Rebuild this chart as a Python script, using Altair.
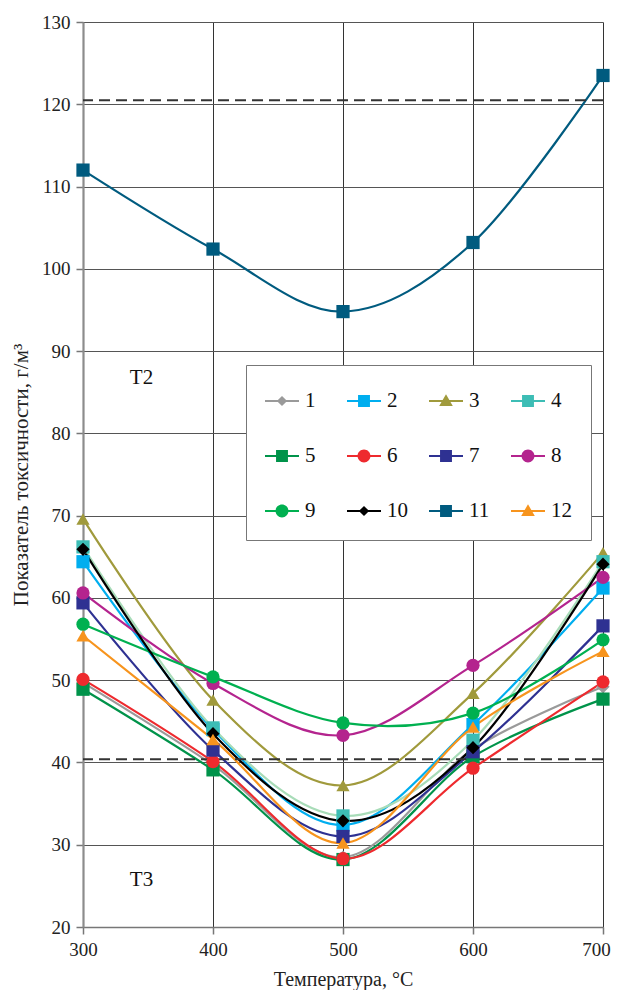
import altair as alt
import pandas as pd

temps = [300, 400, 500, 600, 700]
series_names = [str(i) for i in range(1, 13)]

s1 = [49.7, 39.7, 28.5, 41.6, 49.2]
s2 = [64.4, 44.0, 32.4, 44.6, 61.2]
s3 = [69.6, 47.6, 37.2, 48.4, 65.5]
s4 = [66.2, 44.2, 33.5, 42.7, 64.4]
s5 = [48.9, 39.1, 28.2, 40.7, 47.7]
s6 = [50.1, 40.1, 28.3, 39.3, 49.8]
s7 = [59.4, 41.5, 31.0, 41.3, 56.6]
s8 = [60.6, 49.6, 43.3, 51.8, 62.5]
s9 = [56.8, 50.4, 44.8, 46.0, 54.9]
s10 = [65.9, 43.5, 32.9, 41.8, 64.1]
s11 = [112.0, 102.4, 94.8, 103.2, 123.5]
s12 = [55.4, 42.8, 30.2, 44.3, 53.5]
all_series = [s1, s2, s3, s4, s5, s6, s7, s8, s9, s10, s11, s12]

marker_colors = ["#9a9a9a", "#00aeef", "#a09a3c", "#3dbdb5", "#00934a", "#ee2a2e",
                 "#2e3192", "#b4248e", "#00b050", "#000000", "#005b7f", "#f7941d"]
line_colors = ["#9a9a9a", "#00aeef", "#a09a3c", "#a8dcb8", "#00934a", "#ee2a2e",
               "#2e3192", "#b4248e", "#00b050", "#000000", "#005b7f", "#f7941d"]
marker_shapes = ["diamond", "square", "triangle-up", "square", "square", "circle",
                 "square", "circle", "circle", "diamond", "square", "triangle-up"]

bar = "M-1,-0.06H1V0.06H-1Z"
sq = "M-0.35,-0.35H0.35V0.35H-0.35Z"
ci = "M-0.38,0A0.38,0.38 0 1,1 0.38,0A0.38,0.38 0 1,1 -0.38,0Z"
tri = "M0,-0.4L0.4,0.3H-0.4Z"
dia = "M0,-0.3L0.3,0L0,0.3L-0.3,0Z"
path_of = {"diamond": dia, "square": sq, "circle": ci, "triangle-up": tri}
legend_paths = [bar + path_of[s] for s in marker_shapes]

limit_values = [120.5, 40.4]
zone_labels = ["Т2", "Т3"]
zone_x = [336, 336]
zone_y = [86.7, 25.7]

rows = []
for name, vals in zip(series_names, all_series):
    for t, v in zip(temps, vals):
        rows.append({"t": t, "v": v, "series": name})
df = pd.DataFrame(rows)

FONT = "Liberation Serif"

x_scale = alt.Scale(domain=[300, 700], nice=False, zero=False)
y_scale = alt.Scale(domain=[20, 130], nice=False, zero=False)

x_axis = alt.Axis(values=[300, 400, 500, 600, 700], title="Температура, °C",
                  format="d", grid=True, gridColor="#333333", gridWidth=1,
                  domainColor="#777777", domainWidth=1.5, labelFlush=False,
                  labelOffset={"condition": {"test": "datum.value == 700", "value": -7}, "value": 0},
                  tickColor="#777777", tickSize=7, tickWidth=1.5,
                  labelFont=FONT, labelFontSize=19, labelColor="#222222",
                  labelPadding=6, titleFont=FONT, titleFontSize=20,
                  titleFontWeight="normal", titleColor="#222222", titlePadding=10)
y_axis = alt.Axis(values=list(range(20, 131, 10)), title="Показатель токсичности, г/м³",
                  grid=True, gridColor="#555555", gridWidth=1.2, labelFlush=False,
                  domainColor="#8c8c8c", domainWidth=2.2,
                  tickColor="#777777", tickSize=7, tickWidth=1.5,
                  labelFont=FONT, labelFontSize=19, labelColor="#222222",
                  labelPadding=6, titleFont=FONT, titleFontSize=21,
                  titleFontWeight="normal", titleColor="#222222", titlePadding=10)

x_enc = alt.X("t:Q", scale=x_scale, axis=x_axis)
y_enc = alt.Y("v:Q", scale=y_scale, axis=y_axis)

base = alt.Chart(df)

lines = base.mark_line(interpolate="cardinal", tension=0, strokeWidth=2.2).encode(
    x=x_enc, y=y_enc,
    color=alt.Color("series:N", scale=alt.Scale(domain=series_names, range=line_colors), legend=None),
    detail="series:N",
    order=alt.Order("t:Q"),
)

points = base.mark_point(filled=True, opacity=1, size=175).encode(
    x=x_enc, y=y_enc,
    color=alt.Color("series:N", scale=alt.Scale(domain=series_names, range=marker_colors), legend=None),
    shape=alt.Shape("series:N", scale=alt.Scale(domain=series_names, range=marker_shapes), legend=None),
)

leg = dict(title=None, orient="none", legendX=163, legendY=343, direction="horizontal",
           columns=4, gridAlign="all", columnPadding=21, rowPadding=28,
           symbolSize=1156, symbolOpacity=1, symbolStrokeWidth=0,
           labelFont=FONT, labelFontSize=21, labelColor="#111111",
           labelOffset=6, padding=19, fillColor="white", strokeColor="#777777")

legend_layer = base.mark_point(filled=True, opacity=0, size=1156).encode(
    x=x_enc, y=y_enc,
    color=alt.Color("series:N", scale=alt.Scale(domain=series_names, range=marker_colors),
                    legend=alt.Legend(**leg)),
    shape=alt.Shape("series:N", scale=alt.Scale(domain=series_names, range=legend_paths),
                    legend=alt.Legend(**leg)),
)

limits = alt.Chart(pd.DataFrame({"v": limit_values})).mark_rule(
    color="#333333", strokeWidth=2, strokeDash=[11, 6]).encode(y=y_enc)

zones = alt.Chart(pd.DataFrame({"t": zone_x, "v": zone_y, "label": zone_labels})).mark_text(
    font=FONT, fontSize=21, align="left", baseline="middle", color="#111111").encode(
    x=x_enc, y=y_enc, text="label:N")

chart = alt.layer(lines, limits, points, zones, legend_layer).resolve_scale(
    color="independent", shape="independent"
).properties(
    width=520, height=905,
    autosize=alt.AutoSizeParams(type="none"),
    padding={"left": 75, "top": 14, "right": 8, "bottom": 63},
).configure_view(stroke=None)

chart.save("out.html", embed_options={"renderer": "svg", "actions": False})
